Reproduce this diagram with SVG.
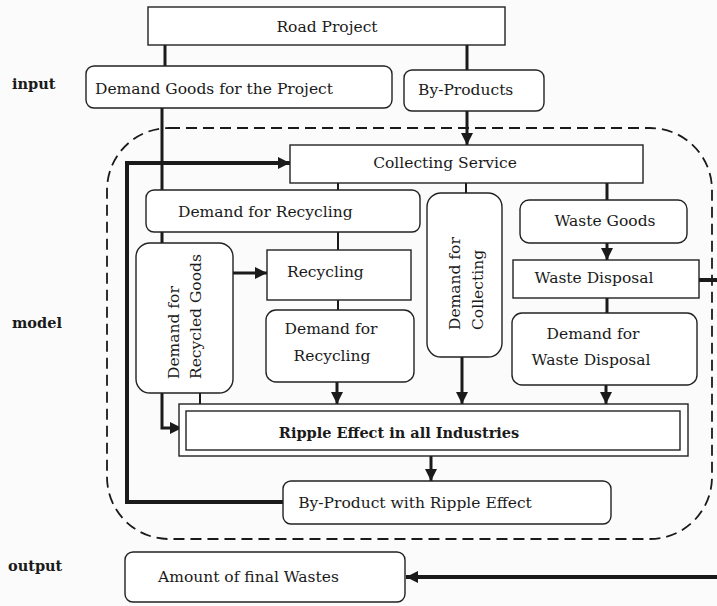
<svg xmlns="http://www.w3.org/2000/svg" width="717" height="606" viewBox="0 0 717 606">
<style>
.bx{fill:#fff;stroke:#222;stroke-width:1.4}
.t{font-family:"DejaVu Serif","Liberation Serif",serif;font-size:15.5px;fill:#1a1a1a}
.b{font-weight:bold;font-size:14.5px}
.c{fill:none;stroke:#1a1a1a;stroke-width:3}
.k{fill:none;stroke:#1a1a1a;stroke-width:4}
.th{fill:none;stroke:#1a1a1a;stroke-width:2}
</style>
<defs>
<marker id="ah" markerUnits="userSpaceOnUse" markerWidth="14" markerHeight="14" refX="12" refY="7" orient="auto">
<path d="M0,1 L12,7 L0,13 Z" fill="#1a1a1a"/>
</marker>
</defs>
<rect width="717" height="606" fill="#fbfbfb"/>
<rect x="107" y="128" width="605" height="411" rx="62" fill="none" stroke="#1a1a1a" stroke-width="1.8" stroke-dasharray="11,6"/>
<g id="labels">
<text class="t b" x="12" y="89">input</text>
<text class="t b" x="12" y="328">model</text>
<text class="t b" x="8" y="571">output</text>
</g>
<g id="connectors">
<line class="c" x1="165" y1="45" x2="165" y2="66"/>
<line class="c" x1="467" y1="45" x2="467" y2="70"/>
<path class="c" d="M162,108 V428 H182" marker-end="url(#ah)"/>
<line class="c" x1="467" y1="111" x2="467" y2="145" marker-end="url(#ah)"/>
<path class="k" d="M283,502 H127 V163 H290" marker-end="url(#ah)"/>
<line class="th" x1="338" y1="183" x2="338" y2="250"/>
<line class="th" x1="338" y1="300" x2="338" y2="310"/>
<line class="th" x1="466" y1="183" x2="466" y2="193"/>
<line class="c" x1="607" y1="183" x2="607" y2="200"/>
<line class="c" x1="233" y1="273" x2="267" y2="273" marker-end="url(#ah)"/>
<line class="c" x1="607" y1="243" x2="607" y2="260" marker-end="url(#ah)"/>
<line class="c" x1="607" y1="298" x2="607" y2="313"/>
<line class="k" x1="699" y1="280" x2="717" y2="280"/>
<line class="c" x1="337" y1="382" x2="337" y2="404" marker-end="url(#ah)"/>
<line class="c" x1="462" y1="357" x2="462" y2="404" marker-end="url(#ah)"/>
<line class="c" x1="606" y1="385" x2="606" y2="404" marker-end="url(#ah)"/>
<line class="th" x1="200" y1="393" x2="200" y2="404"/>
<line class="c" x1="431" y1="456" x2="431" y2="481" marker-end="url(#ah)"/>
<line class="k" x1="717" y1="577" x2="406" y2="577" marker-end="url(#ah)"/>
</g>
<g id="road-project">
<rect class="bx" x="148" y="7" width="357" height="38"/>
<text class="t" x="327" y="32" text-anchor="middle">Road Project</text>
</g>
<g id="demand-goods">
<rect class="bx" x="86" y="66" width="306" height="42" rx="8"/>
<text class="t" x="95" y="94">Demand Goods for the Project</text>
</g>
<g id="by-products">
<rect class="bx" x="404" y="70" width="140" height="41" rx="8"/>
<text class="t" x="418" y="95">By-Products</text>
</g>
<g id="collecting-service">
<rect class="bx" x="290" y="145" width="353" height="38"/>
<text class="t" x="445" y="168" text-anchor="middle">Collecting Service</text>
</g>
<g id="demand-recycling-1">
<rect class="bx" x="146" y="190" width="274" height="42" rx="8"/>
<text class="t" x="178" y="217">Demand for Recycling</text>
</g>
<g id="demand-recycled-goods">
<rect class="bx" x="136" y="243" width="97" height="150" rx="14"/>
<text class="t" transform="translate(179,379) rotate(-90)">Demand for</text>
<text class="t" transform="translate(201,379) rotate(-90)">Recycled Goods</text>
</g>
<g id="recycling">
<rect class="bx" x="267" y="250" width="144" height="50"/>
<text class="t" x="287" y="277">Recycling</text>
</g>
<g id="demand-recycling-2">
<rect class="bx" x="266" y="310" width="148" height="72" rx="10"/>
<text class="t" x="331" y="334" text-anchor="middle">Demand for</text>
<text class="t" x="332" y="361" text-anchor="middle">Recycling</text>
</g>
<g id="demand-collecting">
<rect class="bx" x="427" y="193" width="75" height="164" rx="14"/>
<text class="t" transform="translate(460,330) rotate(-90)">Demand for</text>
<text class="t" transform="translate(483,330) rotate(-90)">Collecting</text>
</g>
<g id="waste-goods">
<rect class="bx" x="520" y="200" width="167" height="43" rx="9"/>
<text class="t" x="605" y="226" text-anchor="middle">Waste Goods</text>
</g>
<g id="waste-disposal">
<rect class="bx" x="513" y="260" width="186" height="38"/>
<text class="t" x="594" y="283" text-anchor="middle">Waste Disposal</text>
</g>
<g id="demand-waste-disposal">
<rect class="bx" x="512" y="313" width="185" height="72" rx="10"/>
<text class="t" x="593" y="339" text-anchor="middle">Demand for</text>
<text class="t" x="591" y="365" text-anchor="middle">Waste Disposal</text>
</g>
<g id="ripple-effect">
<rect class="bx" x="179" y="404" width="509" height="52"/>
<rect class="bx" x="186" y="411" width="494" height="39"/>
<text class="t b" x="399" y="438" text-anchor="middle">Ripple Effect in all Industries</text>
</g>
<g id="by-product-ripple">
<rect class="bx" x="283" y="481" width="328" height="43" rx="8"/>
<text class="t" x="415" y="508" text-anchor="middle">By-Product with Ripple Effect</text>
</g>
<g id="final-wastes">
<rect class="bx" x="125" y="552" width="280" height="50" rx="8"/>
<text class="t" x="158" y="582">Amount of final Wastes</text>
</g>
</svg>
